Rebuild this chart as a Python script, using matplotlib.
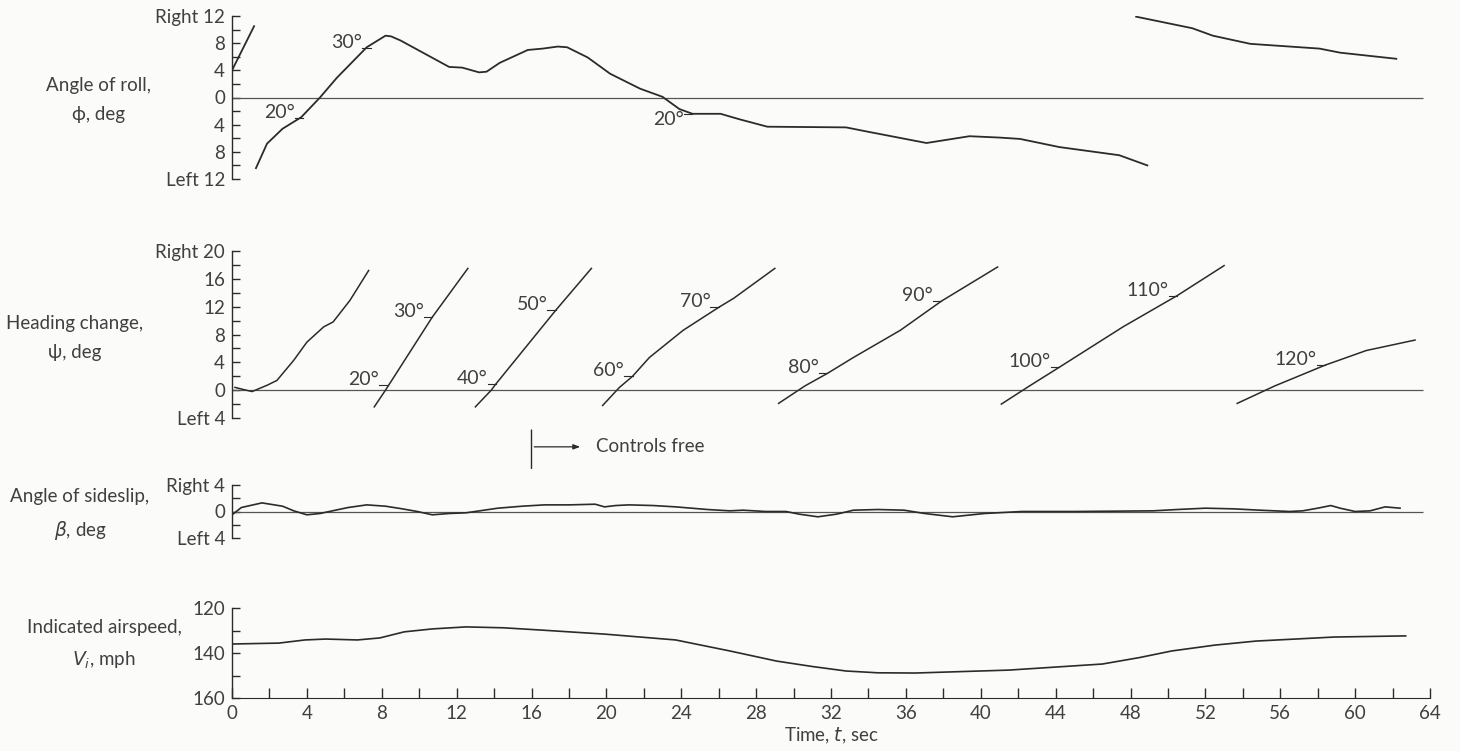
import numpy as np
import matplotlib.pyplot as plt
from matplotlib.ticker import MultipleLocator, FixedLocator

plt.rcParams['font.family'] = ['Lato', 'DejaVu Sans']
plt.rcParams['mathtext.fontset'] = 'dejavusans'

INK = '#2b2b2b'
TXT = '#404040'

# ---- angle of roll, deg (trace wraps at the +/-12 scale limits)
roll_t_a = [0.0, 1.18]
roll_a = [4.0, 10.5]
roll_t_b = [1.28, 1.87, 2.7, 3.7, 4.7, 5.6, 7.2, 8.2, 8.5, 9.0, 10.2, 11.6, 12.3, 13.2, 13.6, 14.3,
            15.8, 16.6, 17.4, 17.9, 19.0, 20.2, 21.8, 23.0, 23.9, 24.6, 26.1, 27.1, 28.6,
            32.8, 33.9, 37.1, 39.4, 41.0, 42.1, 44.2, 47.4, 48.9]
roll_b = [-10.4, -6.8, -4.6, -2.9, 0.0, 2.9, 7.4, 9.1, 9.0, 8.4, 6.6, 4.5, 4.4, 3.7, 3.8, 5.1,
          7.0, 7.2, 7.5, 7.4, 5.9, 3.5, 1.3, 0.1, -1.7, -2.4, -2.4, -3.2, -4.3,
          -4.4, -5.0, -6.7, -5.7, -5.9, -6.1, -7.3, -8.5, -10.0]
roll_t_c = [48.3, 51.3, 52.4, 54.4, 58.1, 59.2, 62.2]
roll_c = [11.9, 10.2, 9.1, 7.9, 7.2, 6.6, 5.7]
roll_marks = [('20°', 3.8, -3.0, 'below'), ('30°', 7.4, 7.3, 'below'), ('20°', 24.6, -2.4, 'above')]

# ---- heading change, deg (each segment re-zeroed every 10 deg)
head_segments = [
    ([0.16, 0.6, 1.07, 1.87, 2.4, 3.3, 4.0, 4.9, 5.4, 6.3, 7.3],
     [0.4, 0.1, -0.2, 0.7, 1.4, 4.3, 6.9, 9.1, 9.8, 12.9, 17.2]),
    ([7.6, 8.2, 10.7, 12.6], [-2.4, 0.0, 10.5, 17.5]),
    ([13.0, 13.85, 14.1, 17.3, 19.2], [-2.4, 0.0, 0.9, 11.5, 17.5]),
    ([19.8, 20.7, 21.4, 22.3, 24.1, 26.0, 26.8, 29.0], [-2.2, 0.4, 2.0, 4.7, 8.6, 11.9, 13.2, 17.5]),
    ([29.2, 30.6, 31.8, 33.2, 35.7, 37.9, 40.9], [-1.9, 0.6, 2.4, 4.7, 8.6, 12.8, 17.7]),
    ([41.1, 42.6, 44.2, 47.6, 50.5, 53.0], [-2.0, 0.6, 3.3, 9.1, 13.6, 17.9]),
    ([53.7, 55.7, 58.4, 60.6, 63.2], [-1.9, 0.6, 3.6, 5.7, 7.2]),
]
head_marks = [('20°', 8.3, 0.7), ('30°', 10.7, 10.5), ('40°', 14.1, 0.9), ('50°', 17.3, 11.5),
              ('60°', 21.4, 2.0), ('70°', 26.0, 11.9), ('80°', 31.8, 2.4), ('90°', 37.9, 12.8),
              ('100°', 44.2, 3.3), ('110°', 50.5, 13.6), ('120°', 58.4, 3.6)]

# ---- angle of sideslip, deg
slip_t = [0.0, 0.5, 1.6, 2.7, 3.3, 4.0, 4.7, 5.2, 6.2, 7.2, 8.2, 9.1, 9.9, 10.7, 11.6, 12.5,
          14.2, 15.5, 16.7, 18.0, 19.4, 19.9, 20.5, 21.2, 22.5, 23.7, 25.4, 26.6, 27.3, 28.5,
          29.6, 30.3, 31.3, 32.3, 33.2, 34.5, 35.9, 37.0, 38.5, 40.2, 42.2, 45.0, 49.2, 50.5,
          52.0, 53.5, 54.9, 56.5, 57.2, 58.0, 58.7, 59.2, 60.0, 60.8, 61.6, 62.4]
slip = [-0.5, 0.6, 1.3, 0.8, 0.1, -0.5, -0.3, 0.0, 0.6, 1.0, 0.8, 0.4, 0.0, -0.5, -0.3, -0.2,
        0.5, 0.8, 1.0, 1.0, 1.1, 0.7, 0.9, 1.0, 0.9, 0.7, 0.3, 0.1, 0.2, 0.0,
        0.0, -0.4, -0.8, -0.4, 0.2, 0.3, 0.2, -0.3, -0.8, -0.3, 0.0, 0.0, 0.1, 0.3,
        0.5, 0.4, 0.2, 0.0, 0.1, 0.5, 0.9, 0.5, 0.0, 0.1, 0.7, 0.5]

# ---- indicated airspeed, mph
speed_t = [0, 2.5, 3.9, 5.0, 6.7, 7.9, 9.2, 10.7, 12.5, 14.5, 16.5, 19.9, 23.7, 26.6, 29.1,
           31.0, 32.8, 34.5, 36.5, 41.5, 46.5, 48.5, 50.2, 52.5, 54.7, 58.9, 62.7]
speed = [136.0, 135.6, 134.2, 133.8, 134.2, 133.3, 130.6, 129.3, 128.4, 128.8, 129.8, 131.6,
         134.2, 139.1, 143.6, 146.0, 148.0, 148.8, 148.9, 147.6, 144.9, 142.0, 139.1, 136.5,
         134.7, 132.9, 132.4]

controls_free_t = 16.0
zero_end = 63.6

W, H = 1460, 751
fig = plt.figure(figsize=(W / 100, H / 100), dpi=100)
fig.patch.set_facecolor('#fbfbfa')


def make_axes(top, bottom):
    ax = fig.add_axes([232 / W, 1 - bottom / H, (1430 - 232) / W, (bottom - top) / H])
    ax.set_facecolor('none')
    ax.set_xlim(0, 64)
    for s in ['top', 'right', 'bottom']:
        ax.spines[s].set_visible(False)
    ax.spines['left'].set_color(INK)
    ax.spines['left'].set_linewidth(1.0)
    ax.tick_params(axis='y', which='both', direction='in', length=6, width=1.0,
                   color=INK, labelsize=13.5, labelcolor=TXT, pad=5)
    ax.tick_params(axis='x', which='both', bottom=False, labelbottom=False)
    return ax


def deg_mark(ax, label, t, v, where='below'):
    ax.plot([t - 0.45, t], [v, v], color=INK, lw=0.8)
    if where == 'below':
        ax.annotate(label, xy=(t - 0.45, v), xytext=(0, 0), textcoords='offset points',
                    ha='right', va='baseline', fontsize=14, color=TXT)
    else:
        ax.annotate(label, xy=(t - 0.45, v), xytext=(0, 2), textcoords='offset points',
                    ha='right', va='top', fontsize=14, color=TXT)


# roll
ax1 = make_axes(16, 179)
ax1.set_ylim(-12, 12)
ax1.yaxis.set_major_locator(FixedLocator([-12, -8, -4, 0, 4, 8, 12]))
ax1.set_yticklabels(['Left 12', '8', '4', '0', '4', '8', 'Right 12'])
ax1.yaxis.set_minor_locator(MultipleLocator(2))
ax1.hlines(0, 0, zero_end, color='#555555', lw=0.9)
for tt, vv in [(roll_t_a, roll_a), (roll_t_b, roll_b), (roll_t_c, roll_c)]:
    ax1.plot(tt, vv, color=INK, lw=1.3)
for lab, t, v, w in roll_marks:
    deg_mark(ax1, lab, t, v, w)

# heading
ax2 = make_axes(251, 418)
ax2.set_ylim(-4, 20)
ax2.yaxis.set_major_locator(FixedLocator([-4, 0, 4, 8, 12, 16, 20]))
ax2.set_yticklabels(['Left 4', '0', '4', '8', '12', '16', 'Right 20'])
ax2.yaxis.set_minor_locator(MultipleLocator(2))
ax2.hlines(0, 0, zero_end, color='#555555', lw=0.9)
for tt, vv in head_segments:
    ax2.plot(tt, vv, color=INK, lw=1.1)
for lab, t, v in head_marks:
    deg_mark(ax2, lab, t, v)

# sideslip
ax3 = make_axes(485, 538)
ax3.set_ylim(-4, 4)
ax3.yaxis.set_major_locator(FixedLocator([-4, 0, 4]))
ax3.set_yticklabels(['Left 4', '0', 'Right 4'])
ax3.yaxis.set_minor_locator(FixedLocator([-2, 2]))
ax3.hlines(0, 0, zero_end, color='#555555', lw=0.9)
ax3.plot(slip_t, slip, color=INK, lw=1.2)

# controls free marker
ax3.annotate('', xy=(controls_free_t, 1.26), xytext=(controls_free_t, 2.09),
             xycoords=('data', 'axes fraction'), textcoords=('data', 'axes fraction'),
             arrowprops=dict(arrowstyle='-', color=INK, lw=1.0))
ax3.annotate('', xy=(controls_free_t + 2.75, 1.72), xytext=(controls_free_t, 1.72),
             xycoords=('data', 'axes fraction'), textcoords=('data', 'axes fraction'),
             arrowprops=dict(arrowstyle='-|>,head_length=0.4,head_width=0.15', color=INK, lw=0.9))
ax3.text(controls_free_t + 3.45, 1.72, 'Controls free', transform=ax3.get_xaxis_transform(),
         ha='left', va='center', fontsize=13.5, color=TXT)

# airspeed
ax4 = make_axes(608, 698)
ax4.set_ylim(160, 120)
ax4.yaxis.set_major_locator(FixedLocator([120, 140, 160]))
ax4.yaxis.set_minor_locator(FixedLocator([130, 150]))
ax4.spines['bottom'].set_visible(True)
ax4.spines['bottom'].set_color(INK)
ax4.tick_params(axis='x', which='both', bottom=True, labelbottom=True, direction='in',
                length=7, width=1.0, color=INK, labelsize=13.5, labelcolor=TXT, pad=5)
ax4.xaxis.set_major_locator(MultipleLocator(4))
ax4.xaxis.set_minor_locator(MultipleLocator(2))
ax4.plot(speed_t, speed, color=INK, lw=1.2)
ax4.set_xlabel('Time, $t$, sec', fontsize=13.5, color=TXT, labelpad=3)

# left side titles
labels = [('Angle of roll,\nϕ, deg', 99, 100),
          ('Heading change,\nψ, deg', 75, 338),
          ('Angle of sideslip,\n$\\beta$, deg', 80, 515),
          ('Indicated airspeed,\n$V_i$, mph', 104, 645)]
for txt, xp, yp in labels:
    fig.text(xp / W, 1 - yp / H, txt, ha='center', va='center', fontsize=13.5,
             color=TXT, linespacing=1.8)

fig.savefig('out.png', dpi=100, facecolor=fig.get_facecolor())
